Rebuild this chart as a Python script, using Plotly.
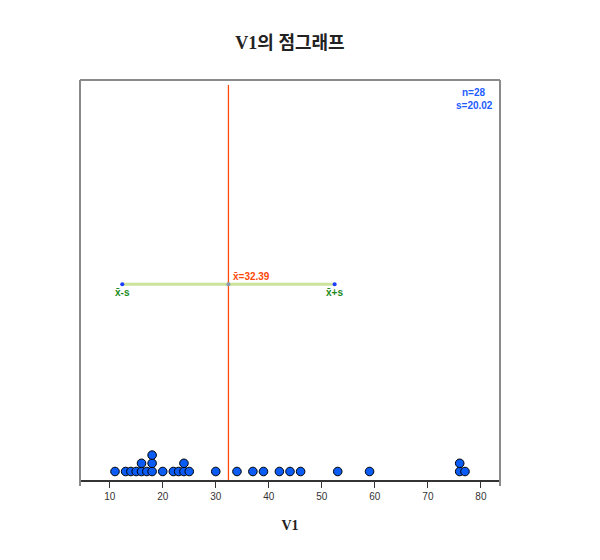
import numpy as np
import plotly.graph_objects as go

var_name = "V1"
values = [11, 13, 14, 15, 16, 16, 17, 18, 18, 18, 20, 22, 23, 24, 24, 25,
          30, 34, 37, 39, 42, 44, 46, 53, 59, 76, 76, 77]
tick_vals = [10, 20, 30, 40, 50, 60, 70, 80]

n = len(values)
mean = float(np.mean(values))
sd = float(np.std(values, ddof=1))
vmin, vmax = min(values), max(values)
pad = (vmax - vmin) * 0.1
xr = [vmin - pad, vmax + pad]

# stacking levels for equal values
xs, levels = [], []
seen = {}
for v in values:
    k = seen.get(v, 0)
    xs.append(v)
    levels.append(k)
    seen[v] = k + 1

PLOT_H = 400.0
BASE = 8.5
STEP = 8.2
ys = [BASE + l * STEP for l in levels]

fig = go.Figure()

# SD line
sd_y = 195.7
fig.add_trace(go.Scatter(x=[mean - sd, mean + sd], y=[sd_y, sd_y], mode="lines",
                         line=dict(color="#cce39c", width=3), hoverinfo="skip",
                         showlegend=False))
fig.add_trace(go.Scatter(x=[mean - sd, mean + sd], y=[sd_y, sd_y], mode="markers",
                         marker=dict(color="#1a3cff", size=4), hoverinfo="skip",
                         showlegend=False))

# mean line
fig.add_trace(go.Scatter(x=[mean, mean], y=[0, 395], mode="lines",
                         line=dict(color="#ff4a0a", width=1.3), hoverinfo="skip",
                         showlegend=False))
fig.add_trace(go.Scatter(x=[mean], y=[sd_y], mode="markers",
                         marker=dict(color="#8a9bb0", size=4), hoverinfo="skip",
                         showlegend=False))

# dots
fig.add_trace(go.Scatter(x=xs, y=ys, mode="markers",
                         marker=dict(color="#0a5cf5", size=8.6,
                                     line=dict(color="#000000", width=1)),
                         showlegend=False))

lab_font = dict(family="Liberation Sans, Arial, sans-serif", size=10)
fig.add_annotation(x=mean - sd, y=sd_y - 8, text="<b>x̄-s</b>", showarrow=False,
                   font=dict(**lab_font, color="#1a8a1a"), xanchor="center", yanchor="middle")
fig.add_annotation(x=mean + sd, y=sd_y - 8, text="<b>x̄+s</b>", showarrow=False,
                   font=dict(**lab_font, color="#1a8a1a"), xanchor="center", yanchor="middle")
fig.add_annotation(x=mean, y=sd_y + 8, text=f"<b>x̄={mean:.2f}</b>", showarrow=False,
                   font=dict(**lab_font, color="#ff4a0a"), xanchor="left", xshift=3,
                   yanchor="middle")
fig.add_annotation(x=(474 - 80) / 420.0, y=(480 - 92) / 400.0, xref="paper", yref="paper",
                   text=f"<b>n={n}</b>", showarrow=False, xanchor="center", yanchor="middle",
                   font=dict(**lab_font, color="#1e5cff"))
fig.add_annotation(x=(474 - 80) / 420.0, y=(480 - 106) / 400.0, xref="paper", yref="paper",
                   text=f"<b>s={sd:.2f}</b>", showarrow=False, xanchor="center", yanchor="middle",
                   font=dict(**lab_font, color="#1e5cff"))

# frame lines
box = "#8a8a8a"
fig.add_shape(type="line", xref="paper", yref="paper", x0=0, x1=1, y0=1, y1=1,
              line=dict(color=box, width=2))
fig.add_shape(type="line", xref="paper", yref="paper", x0=0, x1=0, y0=-6/400, y1=1,
              line=dict(color=box, width=2))
fig.add_shape(type="line", xref="paper", yref="paper", x0=1, x1=1, y0=-6/400, y1=1,
              line=dict(color=box, width=2))

# page has an 8px body margin; size the figure so the plot area lands at 80..500 x 80..480
W, H = 592, 552
fig.update_layout(
    width=W, height=H,
    margin=dict(l=72, r=100, t=72, b=80),
    plot_bgcolor="white", paper_bgcolor="white",
    title=dict(text=f"<b>{var_name}의 점그래프</b>", x=(290 - 8) / W, xanchor="center",
               y=1 - (43 - 8) / H, yanchor="middle",
               font=dict(family="Liberation Serif, Noto Sans CJK KR, serif", size=18,
                         color="#222222")),
    xaxis=dict(range=xr, tickvals=tick_vals, showgrid=False, zeroline=False,
               showline=True, linecolor="#333333", linewidth=1.5,
               ticks="outside", ticklen=6, tickcolor="#333333", tickwidth=1,
               tickfont=dict(family="Liberation Sans, Arial, sans-serif", size=10,
                             color="#333333"),
               title=dict(text=f"<b>{var_name}</b>", standoff=19,
                          font=dict(family="Liberation Serif, serif", size=14,
                                    color="#222222"))),
    yaxis=dict(range=[0, PLOT_H], visible=False, showgrid=False, zeroline=False),
)

fig.write_html("out.html")
